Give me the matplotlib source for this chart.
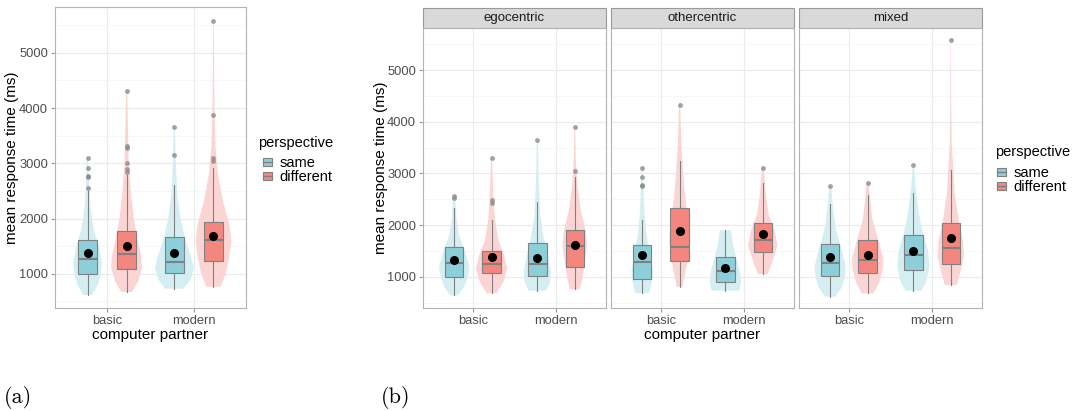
import matplotlib.pyplot as plt
from matplotlib.patches import Patch, Rectangle
from matplotlib.lines import Line2D
from matplotlib.ticker import MultipleLocator

plt.rcParams['font.family'] = ['Liberation Sans', 'DejaVu Sans']

partners = ['basic', 'modern']
perspectives = ['same', 'different']
facets = ['egocentric', 'othercentric', 'mixed']

# every list runs: basic-same, basic-different, modern-same, modern-different
# box = (lower whisker, q1, median, q3, upper whisker), in ms

# (a) all conditions together
all_box = [(615, 1000, 1270, 1620, 2490), (670, 1090, 1360, 1780, 2790),
           (730, 1020, 1220, 1660, 2615), (765, 1230, 1610, 1935, 2915)]
all_mean = [1375, 1500, 1370, 1680]
all_out = [[2560, 2750, 2770, 2920, 3100], [2850, 2900, 3000, 3270, 3320, 4310],
           [3150, 3650], [3040, 3100, 3880, 5570]]
all_vy = [[615, 800, 1000, 1200, 1500, 1800, 2200, 2600, 3100],
          [670, 850, 1100, 1300, 1600, 2000, 2500, 3000, 3500, 4310],
          [730, 900, 1100, 1300, 1600, 2000, 2400, 3000, 3650],
          [765, 1000, 1300, 1600, 1900, 2300, 2800, 3300, 4000, 5570]]
all_vw = [[8, 20, 26, 28, 22, 12, 6, 3, 1],
          [10, 22, 30, 29, 22, 14, 8, 4, 3, 1],
          [18, 32, 38, 33, 22, 12, 6, 3, 1],
          [14, 24, 31, 35, 31, 19, 9, 4, 2, 0.5]]

# (b) egocentric
ego_box = [(640, 987, 1258, 1575, 2330), (680, 1070, 1245, 1500, 2100),
           (730, 1020, 1240, 1645, 2445), (755, 1180, 1595, 1900, 2935)]
ego_mean = [1320, 1375, 1355, 1613]
ego_out = [[2516, 2560], [2432, 2484, 3297], [3645], [3045, 3890]]
ego_vy = [[640, 800, 1000, 1200, 1500, 1800, 2100, 2560],
          [680, 900, 1150, 1400, 1700, 2100, 2500, 3297],
          [730, 900, 1100, 1400, 1800, 2200, 2800, 3645],
          [755, 1000, 1300, 1600, 1900, 2300, 2800, 3300, 3890]]
ego_vw = [[8, 20, 28, 31, 22, 10, 5, 2],
          [10, 24, 32, 26, 14, 7, 4, 1],
          [18, 26, 28, 22, 12, 6, 3, 1],
          [10, 16, 21, 25, 22, 12, 5, 2, 1]]

# (b) othercentric
other_box = [(680, 950, 1290, 1615, 2100), (805, 1310, 1568, 2340, 3240),
             (730, 897, 1116, 1380, 1900), (1050, 1484, 1710, 2032, 2806)]
other_mean = [1430, 1885, 1174, 1826]
other_out = [[2750, 2774, 2923, 3103], [4316], [], [3110]]
other_vy = [[680, 900, 1100, 1400, 1800, 2200, 2600, 3103],
            [805, 1100, 1400, 1700, 2000, 2400, 2900, 3500, 4316],
            [730, 900, 1100, 1300, 1600, 1900],
            [1050, 1300, 1600, 1900, 2200, 2600, 3110]]
other_vw = [[14, 20, 22, 16, 9, 5, 3, 1],
            [6, 12, 18, 21, 19, 13, 8, 4, 1],
            [28, 32, 30, 24, 16, 11],
            [10, 20, 30, 24, 12, 6, 2]]

# (b) mixed
mixed_box = [(613, 1013, 1265, 1632, 2406), (677, 1065, 1323, 1710, 2580),
             (730, 1130, 1413, 1800, 2613), (840, 1240, 1548, 2032, 3065)]
mixed_mean = [1387, 1413, 1490, 1755]
mixed_out = [[2755], [2820], [3160], [5580]]
mixed_vy = [[613, 800, 1000, 1200, 1500, 1900, 2300, 2755],
            [677, 900, 1150, 1350, 1700, 2100, 2500, 2820],
            [730, 900, 1200, 1500, 1900, 2300, 2700, 3160],
            [840, 1100, 1400, 1700, 2100, 2600, 3100, 3600, 4300, 5580]]
mixed_vw = [[10, 24, 30, 32, 24, 12, 6, 2],
            [12, 24, 31, 32, 22, 10, 5, 2],
            [16, 26, 33, 30, 18, 10, 5, 1],
            [12, 20, 27, 25, 16, 8, 5, 2, 1, 0.5]]

box_cols = ['#8DCFD9', '#F3877F']
violin_cols = ['#D5EEF2', '#FBD5D3']
edge = '#808080'
DODGE = 0.225
W_SCALE = 1 / 85.0  # violin density units -> x units

FW, FH = 1083, 411


def draw_panel(ax, box, means, outs, vy, vw):
    pos = [1 - DODGE, 1 + DODGE, 2 - DODGE, 2 + DODGE]
    for i in range(4):
        stats = [dict(coords=vy[i], vals=vw[i], mean=means[i], median=box[i][2],
                      min=vy[i][0], max=vy[i][-1])]
        v = ax.violin(stats, positions=[pos[i]], widths=[max(vw[i]) * W_SCALE],
                      showextrema=False)
        for b in v['bodies']:
            b.set_facecolor(violin_cols[i % 2])
            b.set_edgecolor('none')
            b.set_alpha(1)
            b.set_zorder(2)
    bstats = []
    for i in range(4):
        lo, q1, med, q3, hi = box[i]
        bstats.append(dict(whislo=lo, q1=q1, med=med, q3=q3, whishi=hi,
                           mean=means[i], fliers=outs[i]))
    bp = ax.bxp(bstats, positions=pos, widths=0.22, patch_artist=True,
                showmeans=True, showcaps=False, manage_ticks=False,
                boxprops=dict(edgecolor=edge, linewidth=0.8),
                whiskerprops=dict(color=edge, linewidth=0.8),
                medianprops=dict(color=edge, linewidth=1.5),
                meanprops=dict(marker='o', markerfacecolor='black',
                               markeredgecolor='black', markersize=5.5),
                flierprops=dict(marker='o', markerfacecolor='#8C8C8C',
                                markeredgecolor='none', markersize=3.5, alpha=0.8),
                zorder=3)
    for i, patch in enumerate(bp['boxes']):
        patch.set_facecolor(box_cols[i % 2])


def style_axes(ax, ylim, left_labels=True):
    ax.set_xlim(0.4, 2.6)
    ax.set_ylim(*ylim)
    ax.set_xticks([1, 2])
    ax.set_xticklabels(partners)
    ax.yaxis.set_major_locator(MultipleLocator(1000))
    ax.yaxis.set_minor_locator(MultipleLocator(500))
    ax.grid(True, which='major', color='#EBEBEB', linewidth=0.8)
    ax.grid(True, which='minor', axis='y', color='#F4F4F4', linewidth=0.5)
    ax.set_axisbelow(True)
    for s in ax.spines.values():
        s.set_color('#B3B3B3')
        s.set_linewidth(0.8)
    ax.tick_params(which='major', length=3, color='#999999', labelcolor='#4D4D4D',
                   labelsize=9.3, pad=2)
    ax.tick_params(which='minor', length=0)
    if not left_labels:
        ax.tick_params(axis='y', which='both', length=0, labelleft=False)


def fig_rect(x0, y0, x1, y1):
    return [x0 / FW, 1 - y1 / FH, (x1 - x0) / FW, (y1 - y0) / FH]


fig = plt.figure(figsize=(FW / 100, FH / 100), dpi=100)

# ---- (a)
ax_a = fig.add_axes(fig_rect(55, 7, 246, 308))
draw_panel(ax_a, all_box, all_mean, all_out, all_vy, all_vw)
style_axes(ax_a, (380, 5830))

# ---- (b)
b_box = [ego_box, other_box, mixed_box]
b_mean = [ego_mean, other_mean, mixed_mean]
b_out = [ego_out, other_out, mixed_out]
b_vy = [ego_vy, other_vy, mixed_vy]
b_vw = [ego_vw, other_vw, mixed_vw]
lefts = [423, 611, 799]
for k, name in enumerate(facets):
    ax = fig.add_axes(fig_rect(lefts[k], 28, lefts[k] + 183, 308))
    draw_panel(ax, b_box[k], b_mean[k], b_out[k], b_vy[k], b_vw[k])
    style_axes(ax, (395, 5815), left_labels=(k == 0))
    strip_h = 20 / 280
    ax.add_patch(Rectangle((0, 1), 1, strip_h, transform=ax.transAxes, clip_on=False,
                           facecolor='#D9D9D9', edgecolor='#999999', linewidth=0.8))
    ax.text(0.5, 1 + strip_h / 2, name, transform=ax.transAxes, ha='center',
            va='center', fontsize=9.5, color='#1A1A1A')

# axis titles
fig.text(12 / FW, 1 - 157.5 / FH, 'mean response time (ms)', rotation=90,
         ha='center', va='center', fontsize=11)
fig.text(150.5 / FW, 1 - 335 / FH, 'computer partner', ha='center', va='center',
         fontsize=11)
fig.text(381 / FW, 1 - 168 / FH, 'mean response time (ms)', rotation=90,
         ha='center', va='center', fontsize=11)
fig.text(702.5 / FW, 1 - 335 / FH, 'computer partner', ha='center', va='center',
         fontsize=11)

# legends: title as text, keys below
handles = [(Patch(facecolor=box_cols[i], edgecolor=edge, linewidth=0.8),
            Line2D([], [], color=edge, linewidth=1.0)) for i in range(2)]
for (tx, ty, kx, ky) in [(258, 143, 263, 156), (995, 152, 997, 166)]:
    fig.text(tx / FW, 1 - ty / FH, 'perspective', ha='left', va='center',
             fontsize=10.5)
    fig.legend(handles, perspectives, loc='upper left',
               bbox_to_anchor=(kx / FW, 1 - ky / FH), frameon=False,
               fontsize=10.5, handlelength=0.65, handleheight=0.5,
               handletextpad=0.5, labelspacing=0.0,
               borderpad=0, borderaxespad=0)

# subfigure tags
fig.text(4 / FW, 1 - 397 / FH, '(a)', family='cmr10', fontsize=16, va='center')
fig.text(381 / FW, 1 - 397 / FH, '(b)', family='cmr10', fontsize=16, va='center')

fig.savefig('out.png', dpi=100)
